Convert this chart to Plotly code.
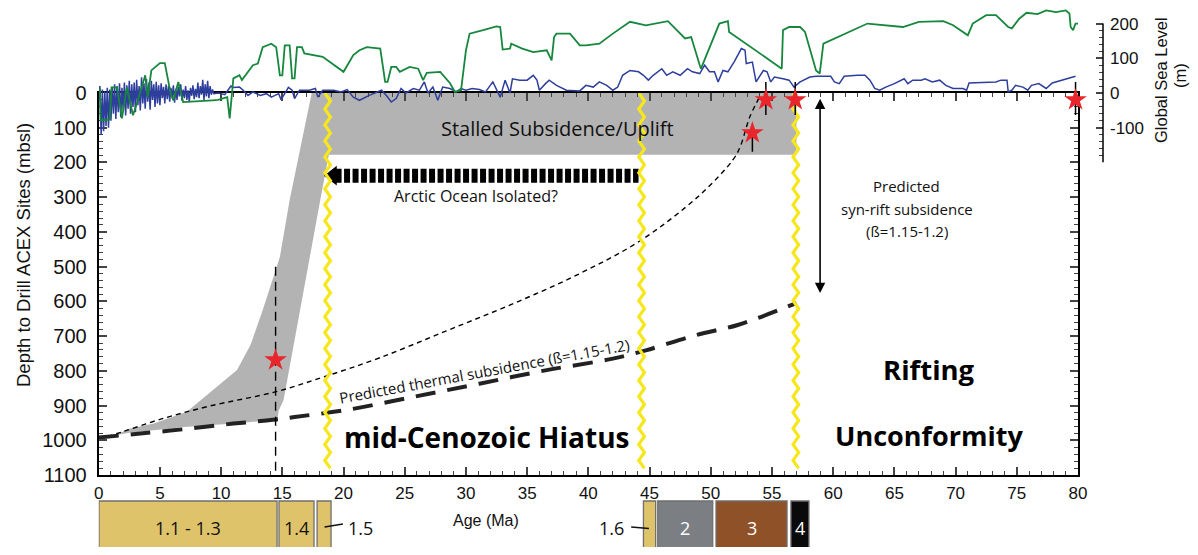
import plotly.graph_objects as go

# ---------------- DATA ----------------
# Global sea level curves (age in Ma, sea level in m)
blue_age = [0.0, 0.1, 0.2, 0.3, 0.4, 0.5, 0.6, 0.7, 0.8, 0.9, 1.0, 1.1, 1.2, 1.3, 1.4, 1.5, 1.6, 1.7, 1.8, 1.9,
            2.0, 2.1, 2.2, 2.3, 2.4, 2.5, 2.6, 2.7, 2.8, 2.9, 3.0, 3.1, 3.2, 3.3, 3.4, 3.5, 3.6, 3.7, 3.8, 3.9,
            4.0, 4.1, 4.2, 4.3, 4.4, 4.5, 4.6, 4.7, 4.8, 4.9, 5.0, 5.1, 5.2, 5.3, 5.4, 5.5, 5.6, 5.7, 5.8, 5.9,
            6.0, 6.1, 6.2, 6.3, 6.4, 6.5, 6.6, 6.7, 6.8, 6.9, 7.0, 7.1, 7.2, 7.3, 7.4, 7.5, 7.6, 7.7, 7.8, 7.9,
            8.0, 8.1, 8.2, 8.3, 8.4, 8.5, 8.6, 8.7, 8.8, 8.9, 9.0, 9.1, 9.2, 9.3, 9.4,
            9.8, 10.3, 10.8, 11.0, 11.5, 11.8, 12.2, 12.6, 13.2, 13.7, 14.1, 14.7, 14.9, 15.5, 15.8, 16.0, 16.4,
            17.2, 17.7, 17.9, 18.3, 19.2, 19.8, 20.3, 20.8, 21.3, 22.1, 23.1, 23.5, 23.9, 24.3, 24.7, 25.1, 25.7,
            26.2, 26.6, 26.9, 27.3, 27.7, 28.1, 28.7, 29.2, 29.6, 30.0, 30.5, 31.1, 31.6, 32.2, 32.5, 32.8, 33.2,
            33.6, 33.8, 34.4, 35.0, 35.5, 35.8, 36.0, 36.5, 36.8, 37.4, 38.2, 39.3, 39.8, 40.4, 40.9, 41.5, 42.0,
            42.4, 42.8, 43.4, 44.1, 44.5, 44.9, 45.3, 46.0, 46.4, 46.9, 47.5, 48.1, 48.5, 49.1, 49.5, 49.9, 50.3,
            50.6, 51.0, 51.4, 51.9, 52.5, 52.8, 52.9, 53.4, 53.7, 54.3, 54.6, 54.9, 55.2, 55.9, 56.4, 56.8, 57.3,
            58.1, 58.6, 59.8, 60.1, 60.5, 60.9, 62.0, 62.6, 63.0, 63.4, 63.8, 64.3, 65.0, 65.8, 66.1, 66.5, 67.2,
            67.5, 68.1, 68.7, 69.2, 69.8, 70.6, 70.9, 71.1, 72.5, 73.3, 73.7, 74.2, 74.3, 74.6, 74.9, 75.5, 75.9,
            76.2, 76.8, 77.4, 77.9, 79.0, 79.8]
blue_sl = [-20, 20, -120, 10, -110, 5, -95, 15, -100, 10, -80, 18, -60, 25, -75, 20, -55, 28, -70, 15,
           -50, 30, -65, 22, -45, 35, -60, 25, -40, 30, -55, 38, -35, 20, -50, 45, -30, 28, -45, 40,
           -25, 30, -48, 35, -20, 25, -40, 32, -30, 22, -35, 28, -15, 18, -30, 25, -18, 20, -25, 15,
           -12, 22, -28, 12, -20, 18, -10, 25, -22, 10, -15, 20, -20, 8, -25, 15, -8, 22, -18, 12,
           -12, 30, -15, 20, -5, 38, -20, 25, -10, 35, -15, 20, -5, 10, -2,
           0, -5, 20, 16, 17, 8, -7, 3, -7, -2, -12, -2, -19, 16, 8, -16, 8,
           8, 13, -12, 8, 8, 3, 10, -12, -21, -7, 8, -7, -26, -16, 13, 0, 13,
           8, 32, 0, 17, -21, 17, 13, 3, 13, 8, 13, 10, 3, 32, 8, -12, 37,
           0, 41, 37, 37, 51, 37, 8, 27, 37, 22, 8, 6, 22, 17, 32, 22, 8,
           17, 51, 65, 61, 51, 37, 51, 70, 51, 61, 51, 70, 61, 56, 80, 61, 61,
           32, 65, 61, 89, 128, 123, 85, 89, 32, 65, 61, 32, 46, 41, 37, 17, 32,
           46, 48, 48, 32, 27, 48, 51, 51, 37, 13, 8, 17, 27, 41, 27, 37, 37,
           41, 32, 37, 22, 13, 13, 8, 29, 32, 32, 37, 37, 3, 8, 22, 17, 8,
           22, 27, 13, 29, 41, 48]

green_age = [0.1, 0.15, 0.9, 1.05, 1.5, 1.9, 2.3, 2.8, 3.2, 3.8, 4.0, 4.3, 5.0, 5.4, 5.9, 6.1, 6.5, 6.9,
             9.3, 9.75, 10.5, 10.7, 11.0, 11.5, 11.7, 12.6, 13.0, 13.4, 14.1, 14.5, 14.8, 15.0, 15.2, 15.6,
             15.8, 16.0, 16.2, 16.6, 16.8, 18.3, 20.0, 20.8, 21.3, 21.9, 23.0, 23.4, 23.6, 23.9, 24.3, 24.6,
             25.4, 26.1, 26.5, 26.8, 27.9, 28.7, 29.1, 29.6, 30.0, 30.3, 31.4, 32.5, 32.8, 33.0, 33.6, 33.7,
             34.6, 35.5, 36.6, 37.0, 37.2, 37.4, 38.5, 39.3, 39.8, 40.9, 42.0, 43.4, 44.7, 46.5, 47.9, 48.4,
             49.1, 49.2, 50.7, 51.4, 51.5, 55.8, 55.9, 56.4, 57.3, 57.7, 58.6, 58.9, 59.2, 62.8, 65.7, 67.0,
             69.0, 69.8, 71.0, 71.4, 72.5, 73.3, 74.3, 74.6, 75.2, 75.8, 76.7, 77.4, 78.2, 79.0, 79.3, 79.4,
             79.6, 79.8, 80.0]
green_sl = [13, -79, -76, 16, 16, -73, 16, -64, -21, 51, -12, 65, 86, 86, -5, -21, 32, -26,
            -21, -20, -12, -73, 42, 51, 37, 80, 85, 132, 142, 132, 51, 51, 137, 137,
            42, 42, 132, 132, 114, 104, 61, 109, 123, 132, 128, 32, 32, 75, 75, 61,
            75, 70, 37, 58, 61, 28, 3, 8, 123, 171, 181, 192, 190, 125, 128, 142,
            128, 118, 123, 94, 161, 171, 171, 137, 137, 142, 171, 205, 195, 207, 157, 161,
            80, 70, 200, 207, 176, 70, 181, 190, 190, 176, 65, 56, 142, 200, 190, 205,
            207, 195, 166, 200, 224, 224, 190, 186, 214, 231, 227, 238, 233, 238, 229, 190,
            181, 200, 200]

# Subsidence envelope (grey) : outline ages / depths (mbsl)
band_age = [17.4, 57.0, 57.0, 18.8, 18.1, 15.1, 14.7, 14.6, 11.0, 7.0, 2.5, 1.5,
            2.3, 4.5, 7.2, 11.3, 12.4, 13.4, 14.8, 15.6, 17.4]
band_depth = [0, 0, 178, 178, 308, 885, 915, 940, 952, 962, 978, 985,
              968, 952, 918, 798, 726, 625, 472, 308, 0]

# Predicted syn-rift + thermal subsidence (thin dashed)
synrift_age = [0, 2, 5, 9, 14.5, 18.6, 23.0, 28.4, 33.9, 39.3, 44.3, 49.1, 51.8, 52.4, 53.2, 54.0]
synrift_depth = [997, 975, 940, 902, 860, 815, 762, 685, 606, 520, 424, 294, 193, 155, 68, 11]

# Predicted thermal subsidence (thick dashed)
thermal_age = [0, 3, 7, 11, 14.5, 16.0, 20.2, 25.7, 31.1, 36.6, 42.0, 44.7, 48.8, 52.2, 57.0]
thermal_depth = [992, 982, 968, 952, 940, 933, 913, 875, 837, 798, 765, 741, 697, 668, 605]

# Hiatus boundaries (Ma)
hiatus_ages = [18.7, 44.35, 56.95]

# Dated horizons (red stars) with depth ranges
star_age = [14.45, 53.4, 54.5, 56.9, 79.8]
star_depth = [769, 115, 20, 20, 20]
star_top = [500, 97, -32, -32, -32]
star_bot = [1100, 169, 63, 63, 63]

# Arctic isolation arrow
arctic_age = [19.35, 44.1]
arctic_depth = 238

# Stratigraphic units (ages Ma)
unit_labels = ["1.1 - 1.3", "1.4", "1.5", "1.6", "2", "3", "4"]
unit_start = [0.02, 14.73, 17.84, 44.5, 45.67, 50.43, 56.55]
unit_end = [14.57, 17.59, 18.98, 45.5, 50.16, 56.23, 58.02]
unit_colors = ["#DEC36B", "#DEC36B", "#DEC36B", "#DEC36B", "#7B7F84", "#8F5228", "#0A0A0A"]
unit_text_colors = ["#111111", "#111111", None, None, "#FFFFFF", "#FFFFFF", "#FFFFFF"]

x_tickvals = list(range(0, 81, 5))
y_tickvals = list(range(0, 1101, 100))
sl_tickvals = [-200, -100, 0, 100, 200]
sl_ticktext = ["", "-100", "0", "100", "200"]

# ---------------- FIGURE ----------------
# The page body has an 8px margin; keep the figure inside the window (no scrollbars).
OFF = 8
W, H = 1198 - 2 * OFF, 555 - 2 * OFF
def fx(px):
    return (px - OFF) / W
def fy(py):
    return 1 - (py - OFF) / H

PX_PER_M = (475 - 93) / 1100.0
SL_TOP = (93 - OFF) / PX_PER_M      # sea level at the very top of the figure
SL_BOT = -200

AX_FONT = "Liberation Sans, Arial, sans-serif"
TX_FONT = "Open Sans, Noto Sans, sans-serif"

fig = go.Figure()

# grey envelope
fig.add_trace(go.Scatter(x=band_age, y=band_depth, mode="lines", fill="toself",
                         fillcolor="#B3B3B3", line=dict(width=0), hoverinfo="skip"))
# thin dashed predicted curve
fig.add_trace(go.Scatter(x=synrift_age, y=synrift_depth, mode="lines",
                         line=dict(color="#000000", width=1.4, dash="5px,4px", shape="spline")))
# thick dashed thermal
fig.add_trace(go.Scatter(x=thermal_age, y=thermal_depth, mode="lines",
                         line=dict(color="#222222", width=4, dash="20px,12px", shape="spline")))

# arctic arrow
fig.add_trace(go.Scatter(x=arctic_age, y=[arctic_depth] * 2, mode="lines",
                         line=dict(color="#000000", width=14, dash="6px,2.5px")))
fig.add_trace(go.Scatter(x=[arctic_age[0] - 0.25], y=[arctic_depth], mode="markers",
                         marker=dict(symbol="triangle-left", size=17, color="#000000")))

# yellow zigzag unconformities (decorative wavy lines)
half = 23.0
amp = 0.23
for a in hiatus_ages:
    zx, zy = [], []
    d, k = 0.0, 0
    while d <= 1100 + 1e-6:
        zx.append(a + (amp if k % 2 else -amp))
        zy.append(d)
        d += half
        k += 1
    fig.add_trace(go.Scatter(x=zx, y=zy, mode="lines",
                             line=dict(color="#F6E71D", width=3.2), cliponaxis=False))

# dashed range for deep star
fig.add_trace(go.Scatter(x=[star_age[0]] * 2, y=[star_top[0], star_bot[0]], mode="lines",
                         line=dict(color="#000000", width=1.4, dash="9px,6px")))
fig.add_trace(go.Scatter(x=[star_age[0]], y=[star_depth[0]], mode="markers",
                         marker=dict(symbol="star", size=17, color="#E8262B"), cliponaxis=False))

# sea level curves (y2)
fig.add_trace(go.Scatter(x=blue_age, y=blue_sl, yaxis="y2", mode="lines",
                         line=dict(color="#2E3E9C", width=1.5)))
fig.add_trace(go.Scatter(x=green_age, y=green_sl, yaxis="y2", mode="lines",
                         line=dict(color="#16873C", width=1.8)))

# shallow stars: elevation relative to sea level = -depth
for a, t, b in zip(star_age[1:], star_top[1:], star_bot[1:]):
    fig.add_trace(go.Scatter(x=[a, a], y=[-t, -b], yaxis="y2", mode="lines",
                             line=dict(color="#000000", width=1.5)))
fig.add_trace(go.Scatter(x=star_age[1:], y=[-d for d in star_depth[1:]], yaxis="y2", mode="markers",
                         marker=dict(symbol="star", size=17, color="#E8262B"), cliponaxis=False))

# double-headed arrow (syn-rift)
fig.add_annotation(x=58.93, y=576, ax=58.93, ay=12, xref="x", yref="y", axref="x", ayref="y",
                   text="", showarrow=True, arrowhead=2, startarrowhead=2, arrowside="end+start",
                   arrowsize=1.3, startarrowsize=1.3, arrowwidth=1.6, arrowcolor="#000000")

# texts
def txt(x, y, s, size, bold=False, font=TX_FONT, color="#111111", angle=0, xref="x", yref="y"):
    fig.add_annotation(x=x, y=y, xref=xref, yref=yref, text=("<b>%s</b>" % s) if bold else s,
                       showarrow=False, textangle=angle, xanchor="center", yanchor="middle",
                       font=dict(family=font, size=size, color=color))

txt(37.5, 101, "Stalled Subsidence/Uplift", 20)
txt(30.8, 297, "Arctic Ocean Isolated?", 16)
txt(66.0, 268, "Predicted", 15)
txt(66.0, 333, "syn-rift subsidence", 15)
txt(66.0, 396, "(ß=1.15-1.2)", 15)
txt(31.5, 800, "Predicted thermal subsidence (ß=1.15-1.2)", 15, angle=-10.5)
txt(31.7, 991, "mid-Cenozoic Hiatus", 28, bold=True, color="#000000")
txt(67.8, 796, "Rifting", 27.5, bold=True, color="#000000")
txt(67.8, 985, "Unconformity", 27, bold=True, color="#000000")

# axis titles
txt(fx(23), fy(255), "Depth to Drill ACEX Sites (mbsl)", 18.5, font=AX_FONT, angle=-90,
    xref="paper", yref="paper", color="#111111")
txt(31.6, fy(520), "Age (Ma)", 16, font=AX_FONT, xref="x", yref="paper")
txt(fx(1161), fy(80), "Global Sea Level", 16.5, font=AX_FONT, angle=-90,
    xref="paper", yref="paper")
txt(fx(1180), fy(76), "(m)", 16.5, font=AX_FONT, angle=-90,
    xref="paper", yref="paper")

# stratigraphic unit boxes
for lab, s, e, c, tc in zip(unit_labels, unit_start, unit_end, unit_colors, unit_text_colors):
    fig.add_shape(type="rect", xref="x", yref="paper", x0=s, x1=e, y0=fy(570), y1=fy(501),
                  fillcolor=c, line=dict(color="#6F6F6F", width=1.3))
    if tc is not None:
        txt((s + e) / 2, fy(528), lab, 18, color=tc, yref="paper")
# outside labels with leaders
fig.add_shape(type="line", xref="x", yref="paper", x0=18.45, x1=19.95, y0=fy(527), y1=fy(524),
              line=dict(color="#111111", width=1.5))
txt(21.35, fy(528), unit_labels[2], 18, yref="paper")
fig.add_shape(type="line", xref="x", yref="paper", x0=43.5, x1=44.95, y0=fy(527), y1=fy(528.5),
              line=dict(color="#111111", width=1.5))
txt(41.9, fy(528), unit_labels[3], 18, yref="paper")

# sea level axis line
SL_X = fx(1103)
fig.add_shape(type="line", xref="paper", yref="y2", x0=SL_X, x1=SL_X, y0=-200, y1=200,
              line=dict(color="#000000", width=1.5))

fig.update_layout(
    width=W, height=H, margin=dict(l=0, r=0, t=0, b=0, autoexpand=False),
    paper_bgcolor="white", plot_bgcolor="rgba(0,0,0,0)", showlegend=False,
    xaxis=dict(domain=[fx(98.7), fx(1078)], range=[0, 80], anchor="y", automargin=False,
               tickvals=x_tickvals, ticks="inside", ticklen=8, tickwidth=1.5,
               showline=True, linewidth=2, linecolor="#000000", mirror="ticks",
               showgrid=False, zeroline=False,
               tickfont=dict(family=AX_FONT, size=17, color="#111111"),
               minor=dict(dtick=1, ticks="inside", ticklen=4, tickwidth=1.2, showgrid=False),
               ticklabelstandoff=2),
    yaxis=dict(domain=[fy(475), fy(93)], range=[1100, 0], anchor="x", automargin=False,
               tickvals=y_tickvals, ticks="inside", ticklen=8, tickwidth=1.5,
               showline=True, linewidth=2, linecolor="#000000", mirror="ticks",
               showgrid=False, zeroline=False,
               tickfont=dict(family=AX_FONT, size=20, color="#111111"),
               minor=dict(dtick=20, ticks="inside", ticklen=4, tickwidth=1.2, showgrid=False),
               ticklabelstandoff=6),
    yaxis2=dict(domain=[fy(93 + 200 * PX_PER_M), 1.0], range=[SL_BOT, SL_TOP], anchor="free",
                position=SL_X, side="right", tickmode="array", tickvals=sl_tickvals,
                ticktext=sl_ticktext, automargin=False,
                ticks="inside", ticklen=7, tickwidth=1.5, showline=False, showgrid=False,
                zeroline=False, tickfont=dict(family=AX_FONT, size=17, color="#111111"),
                minor=dict(tickmode="array",
                           tickvals=[v for v in range(-180, 200, 20) if v % 100 != 0],
                           ticks="inside", ticklen=4, tickwidth=1.2, showgrid=False),
                ticklabelstandoff=6),
)

fig.write_html("out.html")
